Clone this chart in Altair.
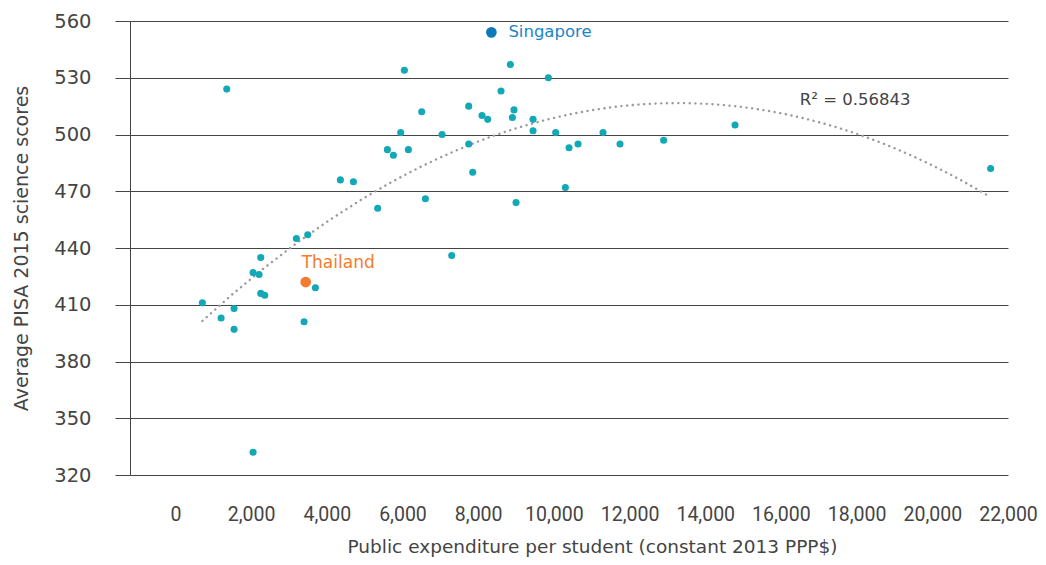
import altair as alt
import pandas as pd

# Public expenditure per student (constant 2013 PPP$) and PISA 2015 science score
spend = [1356, 4359, 4703, 5345, 3197, 3496, 2255, 2052, 2211, 3699,
         2255, 2360, 713, 1207, 1550, 1550, 3400, 2052, 6050, 8851,
         9855, 8604, 6508, 7750, 8102, 8252, 8947, 8904, 9450, 9450,
         10048, 5953, 7046, 5601, 5760, 6156, 7750, 10401, 10639, 7856,
         10304, 6605, 9001, 7301, 11299, 11748, 12901, 14787, 21541]
score = [524, 476, 475, 461, 445, 447, 435, 427, 426, 419,
         416, 415, 411, 403, 408, 397, 401, 332, 534, 537,
         530, 523, 512, 515, 510, 508, 513, 509, 508, 502,
         501, 501, 500, 492, 489, 492, 495, 493, 495, 480,
         472, 466, 464, 436, 501, 495, 497, 505, 482]

hl_names = ["Thailand", "Singapore"]
hl_spend = [3443, 8349]
hl_score = [422, 554]

x_ticks = list(range(0, 22001, 2000))
y_ticks = list(range(320, 561, 30))
r2_text = "R\u00b2 = 0.56843"

FONT = "DejaVu Sans"
XFONT = "Roboto"
TEXT = "#444444"
TEAL = "#12a8b5"
ORANGE = "#f47b2f"
BLUE = "#0b78b8"
BLUE_TXT = "#1a86c4"

df_other = pd.DataFrame({"spend": spend, "score": score, "name": ["Other"] * len(spend)})
df_hl = pd.DataFrame({"spend": hl_spend, "score": hl_score, "name": hl_names})
df_all = pd.concat([df_other, df_hl], ignore_index=True)

x_enc = alt.X("spend:Q",
              title="Public expenditure per student (constant 2013 PPP$)",
              scale=alt.Scale(domain=[-1200, 22000], nice=False, zero=False),
              axis=alt.Axis(values=x_ticks, format=",.0f", grid=False, ticks=False,
                            tickSize=0, domain=False, labelFlush=False,
                            labelFont=XFONT, labelFontSize=19.5, titleFontSize=18.5,
                            labelPadding=30, titlePadding=14, titleX=462))
y_enc = alt.Y("score:Q",
              title="Average PISA 2015 science scores",
              scale=alt.Scale(domain=[320, 560], nice=False, zero=False),
              axis=alt.Axis(values=y_ticks, grid=True, gridColor="#444444",
                            gridWidth=1, ticks=True, tickSize=15,
                            tickColor="#444444", domain=True,
                            domainColor="#444444", labelPadding=24,
                            labelFont=FONT, labelFontSize=19.5, titleFontSize=19,
                            titlePadding=22))

base = alt.Chart(df_all)

trend = base.transform_regression(
    "spend", "score", method="poly", order=2
).mark_line(color="#9a9a9a", strokeWidth=2.4, strokeDash=[0.1, 5.6],
            strokeCap="round").encode(x=x_enc, y=y_enc)

others = alt.Chart(df_other).mark_circle(size=50, opacity=1, color=TEAL).encode(
    x=x_enc, y=y_enc)

thai = alt.Chart(df_hl).transform_filter(alt.datum.name == "Thailand").mark_circle(
    size=115, opacity=1, color=ORANGE).encode(x=x_enc, y=y_enc)
thai_lbl = alt.Chart(df_hl).transform_filter(alt.datum.name == "Thailand").mark_text(
    align="left", baseline="middle", dx=-4, dy=-19, font=FONT, fontSize=17,
    color=ORANGE).encode(x=x_enc, y=y_enc, text="name:N")

sing = alt.Chart(df_hl).transform_filter(alt.datum.name == "Singapore").mark_circle(
    size=115, opacity=1, color=BLUE).encode(x=x_enc, y=y_enc)
sing_lbl = alt.Chart(df_hl).transform_filter(alt.datum.name == "Singapore").mark_text(
    align="left", baseline="middle", dx=17, dy=0, font=FONT, fontSize=16.5,
    color=BLUE_TXT).encode(x=x_enc, y=y_enc, text="name:N")

r2 = alt.Chart(pd.DataFrame({"spend": [16500], "score": [518], "t": [r2_text]})).mark_text(
    align="left", baseline="middle", font=FONT, fontSize=16.5, color=TEXT
).encode(x=x_enc, y=y_enc, text="t:N")

chart = alt.layer(trend, others, thai, thai_lbl, sing, sing_lbl, r2).properties(
    width=878, height=454,
    autosize=alt.AutoSizeParams(type="none"),
    padding={"left": 122, "top": 13, "right": 30, "bottom": 82},
).configure_view(stroke=None).configure_axis(
    labelColor=TEXT,
    titleFont=FONT, titleColor=TEXT, titleFontWeight="normal",
)

chart.save("out.html", embed_options={"renderer": "svg", "actions": False})
